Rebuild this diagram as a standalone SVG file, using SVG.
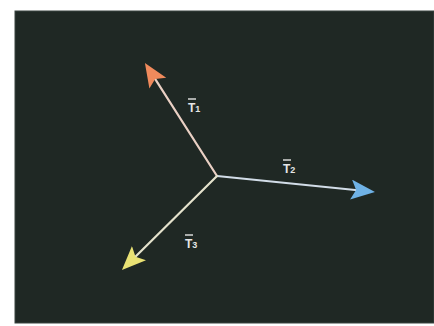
<svg xmlns="http://www.w3.org/2000/svg" width="434" height="326" viewBox="0 0 434 326">
  <style>
    .vec { stroke-width: 2.2; fill: none; stroke-linecap: round; }
    .lbl { font-family: "Liberation Sans", Arial, sans-serif; font-size: 12px; font-weight: bold; fill: #e6e6e6; }
    .bar { stroke: #e6e6e6; stroke-width: 1.4; }
  </style>
  <defs>
    <marker id="hOrange" markerUnits="userSpaceOnUse" markerWidth="26" markerHeight="22" refX="19" refY="10" orient="auto">
      <path d="M0,0 L24,10 L0,20 L5,10 z" fill="#f08a5c"/>
    </marker>
    <marker id="hBlue" markerUnits="userSpaceOnUse" markerWidth="26" markerHeight="22" refX="19" refY="10" orient="auto">
      <path d="M0,0 L24,10 L0,20 L5,10 z" fill="#6fb2e6"/>
    </marker>
    <marker id="hYellow" markerUnits="userSpaceOnUse" markerWidth="26" markerHeight="22" refX="19" refY="10" orient="auto">
      <path d="M0,0 L24,10 L0,20 L5,10 z" fill="#e9e274"/>
    </marker>
  </defs>
  <rect x="0" y="0" width="434" height="326" fill="#ffffff"/>
  <rect id="panel" x="15" y="11" width="419" height="312" fill="#1f2824" stroke="#3a4440" stroke-width="1"/>
  <g id="connectors">
    <line class="vec" x1="217" y1="176" x2="147.6" y2="67.2" stroke="#ead0c4" marker-end="url(#hOrange)"/>
    <line class="vec" x1="217" y1="176" x2="370" y2="191.5" stroke="#d2dde8" marker-end="url(#hBlue)"/>
    <line class="vec" x1="217" y1="176" x2="125.5" y2="266.5" stroke="#e4e2cc" marker-end="url(#hYellow)"/>
  </g>
  <g id="label-t1">
    <line class="bar" x1="188" y1="99" x2="196" y2="99"/>
    <text class="lbl" x="188" y="112">T<tspan font-size="9">1</tspan></text>
  </g>
  <g id="label-t2">
    <line class="bar" x1="283" y1="160" x2="291" y2="160"/>
    <text class="lbl" x="283" y="173">T<tspan font-size="9">2</tspan></text>
  </g>
  <g id="label-t3">
    <line class="bar" x1="185" y1="235" x2="193" y2="235"/>
    <text class="lbl" x="185" y="248">T<tspan font-size="9">3</tspan></text>
  </g>
</svg>
